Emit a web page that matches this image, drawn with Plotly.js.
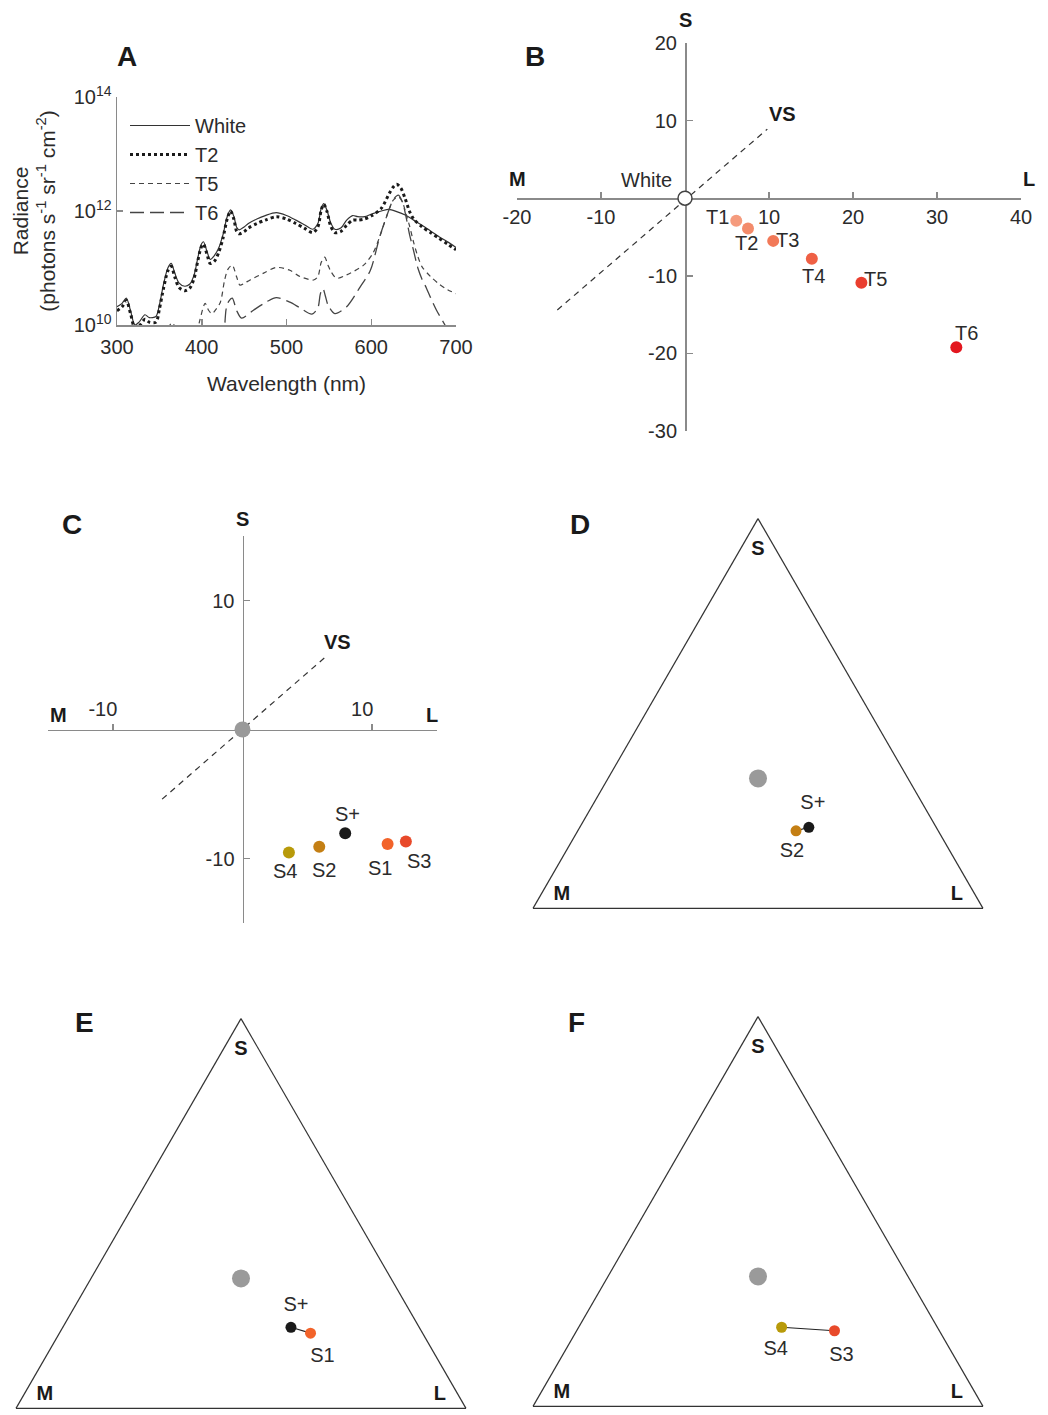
<!DOCTYPE html>
<html>
<head>
<meta charset="utf-8">
<script src="https://cdn.plot.ly/plotly-3.0.1.min.js"></script>
<style>html,body{margin:0;padding:0;background:#fff;}#chart{width:1048px;height:1415px;}</style>
</head>
<body>
<div id="chart"></div>
<script>
// ---------- Panel A: radiance spectra (log10 of radiance) ----------
const wlWhite = [300,306,311,316,321,326,333,338,346,350,355,360,364,368,373,380,386,391,395,399,402,406,410,415,420,425,430,434,438,441,444,450,455,465,475,488,500,511,521,531,537,541,544,548,552,557,564,571,578,584,592,601,612,621,630,640,650,660,670,680,690,700];
const logWhite = [10.32,10.38,10.47,10.25,10.0,10.05,10.18,10.13,10.15,10.35,10.72,11.0,11.08,10.92,10.74,10.68,10.72,10.88,11.15,11.4,11.46,11.3,11.15,11.22,11.35,11.58,11.9,12.02,11.9,11.72,11.67,11.72,11.78,11.86,11.92,11.97,11.92,11.84,11.76,11.68,11.78,12.05,12.13,12.0,11.8,11.68,11.7,11.84,11.92,11.9,11.9,11.95,12.0,12.03,11.99,11.93,11.84,11.75,11.65,11.55,11.46,11.36];

const wlT2 = [300,306,311,316,321,326,333,338,346,350,355,360,364,368,373,380,386,391,395,399,402,406,410,415,420,425,430,434,438,441,444,450,455,465,475,488,500,511,521,531,537,541,544,548,552,557,564,571,578,584,592,601,612,621,626,630,635,640,645,650,660,670,680,690,700];
const logT2 = [10.25,10.32,10.43,10.2,9.95,9.98,10.1,10.05,10.05,10.28,10.65,10.95,11.03,10.85,10.66,10.6,10.65,10.82,11.1,11.35,11.42,11.25,11.08,11.12,11.27,11.52,11.86,12.0,11.85,11.65,11.6,11.64,11.7,11.78,11.84,11.9,11.86,11.78,11.7,11.62,11.72,12.02,12.12,11.98,11.74,11.62,11.64,11.75,11.84,11.84,11.86,11.92,12.05,12.3,12.42,12.47,12.4,12.22,12.0,11.86,11.72,11.62,11.52,11.42,11.32];

const wlT5 = [350,358,362,365,368,375,390,395,398,404,408,412,417,422,427,431,436,441,445,450,457,473,488,504,516,532,537,541,545,549,552,559,571,591,602,610,618,626,632,637,641,645,650,655,660,670,680,690,700];
const logT5 = [9.5,9.9,9.99,10.04,9.98,9.6,9.6,9.9,10.1,10.38,10.26,10.2,10.28,10.4,10.79,10.98,11.05,10.85,10.7,10.73,10.79,10.91,11.01,10.96,10.85,10.79,10.85,11.1,11.19,11.05,10.95,10.82,10.88,11.05,11.26,11.55,11.9,12.19,12.25,12.15,11.95,11.75,11.45,11.2,11.02,10.85,10.72,10.62,10.55];

const wlT6 = [420,425,427,429,432,436,441,447,461,477,488,504,516,530,537,540,543,546,549,557,571,587,599,610,618,626,632,637,641,645,650,655,660,665,670,677,687,695,700];
const logT6 = [9.0,9.3,9.95,10.3,10.42,10.47,10.26,10.12,10.26,10.41,10.48,10.4,10.3,10.19,10.3,10.55,10.64,10.5,10.35,10.2,10.32,10.67,10.96,11.55,11.9,12.2,12.28,12.15,11.9,11.6,11.3,11.0,10.8,10.65,10.48,10.26,10.0,9.8,9.7];

const specNames = ['White','T2','T5','T6'];
const wlTicks = [300,400,500,600,700];
const radTicks = [1e10,1e12,1e14];
const radTickText = ['10<sup>10</sup>','10<sup>12</sup>','10<sup>14</sup>'];

// ---------- Panel B: targets in receptor space ----------
const bNames = ['T1','T2','T3','T4','T5','T6'];
const bL = [6.1,7.5,10.5,15.1,21.0,32.3];
const bS = [-2.9,-3.9,-5.5,-7.8,-10.9,-19.2];
const bColors = ['#f59b7d','#f38b6b','#f27958','#ef6045','#ea3e2e','#e3171f'];
const bWhite = {name:'White', L:0, S:0};
const vsB_L = [-15.2, 9.8];
const vsB_S = [-14.4, 8.9];
const bXTicks = [-20,-10,10,20,30,40];
const bYTicks = [-30,-20,-10,10,20];

// ---------- Panel C: stimuli in receptor space ----------
const cNames = ['S4','S2','S+','S1','S3'];
const cL = [3.58,5.92,7.92,11.19,12.6];
const cS = [-9.53,-9.09,-8.05,-8.88,-8.68];
const cColors = ['#b89a0a','#c47f14','#1a1a1a','#f2632a','#e8492a'];
const vsC_L = [-6.2, 6.6];
const vsC_S = [-5.4, 5.8];
const cTicks = [-10,10];

// ---------- Panels D, E, F: Maxwell triangles (S, M, L proportions) ----------
const centre = {S:[1/3], M:[1/3], L:[1/3]};
const dNames = ['S2','S+']; const dS = [0.199,0.208]; const dM = [0.316,0.283]; const dL = [0.485,0.509];
const dColors = ['#c47f14','#1a1a1a'];
const eNames = ['S+','S1']; const eS = [0.208,0.193]; const eM = [0.285,0.249]; const eL = [0.507,0.558];
const eColors = ['#1a1a1a','#f2632a'];
const fNames = ['S4','S3']; const fS = [0.203,0.194]; const fM = [0.346,0.233]; const fL = [0.451,0.573];
const fColors = ['#b89a0a','#e8492a'];
const vertexNames = ['S','M','L'];

// ---------- layout helpers ----------
const W = 1048, H = 1415;
const FONT = 'Liberation Sans, Arial, Helvetica, sans-serif';
const px = v => v / W;
const py = v => 1 - v / H;
const AX = '#8a8a8a';
const TXT = '#2b2b2b';

const pow10 = a => a.map(v => Math.pow(10, v));
const traces = [];
const annotations = [];

// label offsets in pixels (style only)
const bLabelShift = [[-19,4],[-2,-15],[14,1],[2,-17],[14,4],[10,14]];
const cLabelShift = [[-4,-19],[5,-23],[2,19],[-8,-24],[13,-20]];

// Panel A
const specStyles = [
  {color:'#333', width:1.2, dash:'solid'},
  {color:'#1a1a1a', width:3, dash:'dot'},
  {color:'#444', width:1.2, dash:'5px,4px'},
  {color:'#444', width:1.3, dash:'14px,6px'}
];
[[wlWhite,logWhite],[wlT2,logT2],[wlT5,logT5],[wlT6,logT6]].forEach((s,i) => {
  traces.push({type:'scatter', mode:'lines', x:s[0], y:pow10(s[1]), name:specNames[i],
    xaxis:'x', yaxis:'y', line:Object.assign({shape:'spline', smoothing:0.8}, specStyles[i]),
    showlegend:true, hoverinfo:'skip'});
});

// Panel B
traces.push({type:'scatter', mode:'lines', x:vsB_L, y:vsB_S, xaxis:'x2', yaxis:'y2',
  line:{color:'#333', width:1.2, dash:'6px,5px'}, showlegend:false, hoverinfo:'skip'});
traces.push({type:'scatter', mode:'markers', x:bL, y:bS, xaxis:'x2', yaxis:'y2',
  marker:{size:12, color:bColors}, showlegend:false, cliponaxis:false, hoverinfo:'skip'});
traces.push({type:'scatter', mode:'markers', x:[bWhite.L], y:[bWhite.S], xaxis:'x2', yaxis:'y2',
  marker:{size:14, color:'#fff', line:{color:'#444', width:1.5}}, showlegend:false, cliponaxis:false, hoverinfo:'skip'});
const ptLabel = (t, x, y, xr, yr, sh) => ({text:t, x:x, y:y, xref:xr, yref:yr, showarrow:false,
  xanchor:'center', yanchor:'middle', xshift:sh[0], yshift:sh[1], font:{family:FONT, size:20, color:TXT}});
bNames.forEach((n,i) => annotations.push(ptLabel(n, bL[i], bS[i], 'x2', 'y2', bLabelShift[i])));
annotations.push(ptLabel(bWhite.name, bWhite.L, bWhite.S, 'x2', 'y2', [-39, 18]));

// Panel C
traces.push({type:'scatter', mode:'lines', x:vsC_L, y:vsC_S, xaxis:'x3', yaxis:'y3',
  line:{color:'#333', width:1.2, dash:'6px,5px'}, showlegend:false, hoverinfo:'skip'});
traces.push({type:'scatter', mode:'markers', x:[0], y:[0], xaxis:'x3', yaxis:'y3',
  marker:{size:16, color:'#9a9a9a'}, showlegend:false, cliponaxis:false, hoverinfo:'skip'});
traces.push({type:'scatter', mode:'markers', x:cL, y:cS, xaxis:'x3', yaxis:'y3',
  marker:{size:12, color:cColors}, showlegend:false, cliponaxis:false, hoverinfo:'skip'});
cNames.forEach((n,i) => annotations.push(ptLabel(n, cL[i], cS[i], 'x3', 'y3', cLabelShift[i])));

// Ternary panels
const TRI_W = 450, TRI_H = 450 * Math.sqrt(3) / 2;
function shiftTern(a, b, c, dx, dy) {
  const da = -dy / TRI_H;
  const dc = dx / TRI_W - da / 2;
  const db = -da - dc;
  return [a + da, b + db, c + dc];
}
function ternTraces(sub, names, S, M, L, colors, shifts) {
  traces.push({type:'scatterternary', subplot:sub, mode:'markers', a:centre.S, b:centre.M, c:centre.L,
    marker:{size:18, color:'#9a9a9a'}, showlegend:false, hoverinfo:'skip'});
  traces.push({type:'scatterternary', subplot:sub, mode:'lines+markers', a:S, b:M, c:L,
    line:{color:'#222', width:1.2}, marker:{size:11, color:colors}, showlegend:false, cliponaxis:false, hoverinfo:'skip'});
  const lab = S.map((s,i) => shiftTern(S[i], M[i], L[i], shifts[i][0], shifts[i][1]));
  traces.push({type:'scatterternary', subplot:sub, mode:'text', a:lab.map(v=>v[0]), b:lab.map(v=>v[1]), c:lab.map(v=>v[2]),
    text:names, textposition:'middle center', textfont:{family:FONT, size:20, color:TXT}, showlegend:false, cliponaxis:false, hoverinfo:'skip'});
  traces.push({type:'scatterternary', subplot:sub, mode:'text', a:[0.92,0.034,0.034], b:[0.04,0.919,0.041], c:[0.04,0.047,0.925],
    text:vertexNames, textfont:{family:FONT, size:20, color:'#1a1a1a', weight:'bold'}, showlegend:false, hoverinfo:'skip'});
}
ternTraces('ternary', dNames, dS, dM, dL, dColors, [[-4,21],[4,-23]]);
ternTraces('ternary2', eNames, eS, eM, eL, eColors, [[5,-21],[12,24]]);
ternTraces('ternary3', fNames, fS, fM, fL, fColors, [[-6,23],[7,25]]);

// Domains
const domA = {x:[px(117), px(456)], y:[py(325), py(97)]};
const domB = {x:[px(517), px(1021)], y:[py(431), py(43)]};
const domC = {x:[px(48), px(437)], y:[py(923), py(536)]};
const rangeB = {x:[-20,40], y:[-30,20]};
const rangeC = {x:[-15,15], y:[-15,15]};
const zeroPos = (dom, rng) => dom[0] + (0 - rng[0]) / (rng[1] - rng[0]) * (dom[1] - dom[0]);

const tickFont = {family:FONT, size:20, color:TXT};
const baseAx = {showgrid:false, zeroline:false, showline:true, linecolor:AX, linewidth:1.5, layer:'below traces',
  tickcolor:AX, tickwidth:1.5, ticklen:6, tickfont:tickFont, fixedrange:true};
const txt = arr => arr.map(v => String(v));

function triDomain(x0, x1, yTop, yBot) {
  const w = x1 - x0, h = w * Math.sqrt(3) / 2, c = (yTop + yBot) / 2;
  return {x:[px(x0), px(x1)], y:[py(c + h/2), py(c - h/2)]};
}
const ternAx = {showline:true, linecolor:'#333', linewidth:1.2, showgrid:false, showticklabels:false, ticks:'', title:{text:''}};
const tern = dom => ({domain:dom, bgcolor:'rgba(0,0,0,0)', sum:1,
  aaxis:Object.assign({}, ternAx), baxis:Object.assign({}, ternAx), caxis:Object.assign({}, ternAx)});

const bold = (t, x, y, xref, yref, extra) => Object.assign({text:'<b>'+t+'</b>', x:x, y:y, xref:xref, yref:yref,
  showarrow:false, font:{family:FONT, size:20, color:'#1a1a1a'}}, extra || {});
const panel = (t, x, y) => ({text:'<b>'+t+'</b>', x:px(x), y:py(y), xref:'paper', yref:'paper',
  xanchor:'center', yanchor:'middle', showarrow:false, font:{family:FONT, size:28, color:'#1a1a1a'}});

annotations.push(
  panel('A',127,57), panel('B',535,57), panel('C',72,524), panel('D',580,524), panel('E',84,1022), panel('F',576,1022),
  bold('S', 0, rangeB.y[1], 'x2', 'y2', {yanchor:'bottom', yshift:10}),
  bold('M', rangeB.x[0], 0, 'x2', 'y2', {yanchor:'bottom', yshift:6}),
  bold('L', rangeB.x[1], 0, 'x2', 'y2', {xanchor:'left', yanchor:'bottom', yshift:6}),
  bold('VS', vsB_L[1], vsB_S[1], 'x2', 'y2', {xanchor:'left', yanchor:'bottom', yshift:2}),
  bold('S', 0, rangeC.y[1], 'x3', 'y3', {yanchor:'bottom', yshift:4}),
  bold('M', rangeC.x[0], 0, 'x3', 'y3', {xanchor:'left', yanchor:'bottom', yshift:2}),
  bold('L', rangeC.x[1], 0, 'x3', 'y3', {xanchor:'right', yanchor:'bottom', yshift:2, xshift:3}),
  bold('VS', vsC_L[1], vsC_S[1], 'x3', 'y3', {xanchor:'left', yanchor:'bottom', yshift:0, xshift:-6})
);

const layout = {
  width:W, height:H, margin:{l:0, r:0, t:0, b:0}, paper_bgcolor:'#fff', plot_bgcolor:'rgba(0,0,0,0)',
  font:{family:FONT, size:20, color:TXT},
  showlegend:true,
  legend:{x:px(125), y:py(106), xanchor:'left', yanchor:'top', bgcolor:'rgba(0,0,0,0)',
    font:{family:FONT, size:20, color:TXT}, itemwidth:60, tracegroupgap:0},
  xaxis:Object.assign({}, baseAx, {domain:domA.x, anchor:'y', range:[300,700], tickvals:wlTicks, ticks:'inside', ticklabelstandoff:3,
    title:{text:'Wavelength (nm)', font:{family:FONT, size:21, color:TXT}, standoff:20}}),
  yaxis:Object.assign({}, baseAx, {domain:domA.y, anchor:'x', type:'log', range:[10,14], tickvals:radTicks, ticktext:radTickText, ticks:'inside',
    title:{text:'Radiance<br>(photons s<sup>-1</sup> sr<sup>-1</sup> cm<sup>-2</sup>)', font:{family:FONT, size:21, color:TXT}, standoff:12}}),
  xaxis2:Object.assign({}, baseAx, {domain:domB.x, anchor:'free', position:zeroPos(domB.y, rangeB.y), range:rangeB.x,
    tickvals:bXTicks, ticktext:txt(bXTicks), ticks:'inside', side:'bottom'}),
  yaxis2:Object.assign({}, baseAx, {domain:domB.y, anchor:'free', position:zeroPos(domB.x, rangeB.x), range:rangeB.y,
    tickvals:bYTicks, ticktext:txt(bYTicks), ticks:'inside', side:'left', ticklabelstandoff:4}),
  xaxis3:Object.assign({}, baseAx, {domain:domC.x, anchor:'free', position:zeroPos(domC.y, rangeC.y), range:rangeC.x,
    tickvals:cTicks, ticktext:txt(cTicks), ticks:'outside', side:'top', ticklabelshift:-10}),
  yaxis3:Object.assign({}, baseAx, {domain:domC.y, anchor:'free', position:zeroPos(domC.x, rangeC.x), range:rangeC.y,
    tickvals:cTicks, ticktext:txt(cTicks), ticks:'inside', side:'left', ticklabelstandoff:4}),
  ternary:tern(triDomain(533, 983, 521, 906)),
  ternary2:tern(triDomain(16, 466, 1021, 1406)),
  ternary3:tern(triDomain(533, 983, 1019, 1404)),
  annotations:annotations
};

Plotly.newPlot('chart', traces, layout, {staticPlot:true, displayModeBar:false});
</script>
</body>
</html>
